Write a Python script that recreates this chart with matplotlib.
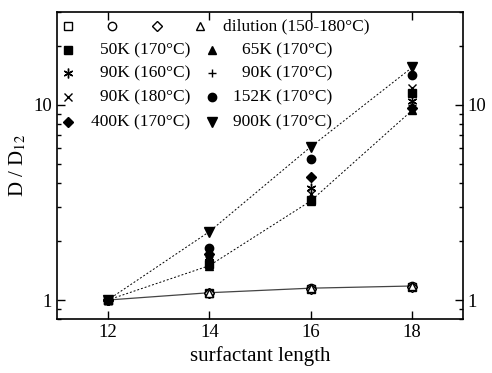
import numpy as np
import matplotlib
matplotlib.use("Agg")
import matplotlib.pyplot as plt
from matplotlib.ticker import LogLocator, NullFormatter, FixedLocator

plt.rcParams['font.family'] = ['Liberation Serif', 'DejaVu Serif']
plt.rcParams['mathtext.fontset'] = 'stix'

# surfactant chain length
L = np.array([12, 14, 16, 18])

# dilution series (150-180 C), all nearly on top of each other
dil_sq = [1.0, 1.08, 1.14, 1.17]
dil_ci = [1.0, 1.09, 1.15, 1.18]
dil_di = [1.0, 1.08, 1.14, 1.17]
dil_tr = [1.0, 1.09, 1.15, 1.18]

# molecular weight series
k50_170 = [1.0, 1.53, 3.26, 11.5]
k65_170 = [1.0, 1.50, 3.22, 9.4]
k90_160 = [1.0, 1.66, 3.75, 10.5]
k90_170 = [1.0, 1.56, 3.35, 10.0]
k90_180 = [1.0, 1.60, 3.50, 12.2]
k152_170 = [1.0, 1.85, 5.28, 14.3]
k400_170 = [1.0, 1.72, 4.27, 9.65]
k900_170 = [1.0, 2.24, 6.10, 15.6]

fig = plt.figure(figsize=(4.92, 3.73), dpi=100)
ax = fig.add_axes([0.116, 0.145, 0.825, 0.823])

# guide lines
dots = (0, (2, 2))
ax.plot(L, dil_ci, '-', color='#444444', lw=0.9, zorder=1)
ax.plot(L, k900_170, ls=dots, color='k', lw=0.7, zorder=1)
ax.plot(L, k65_170, ls=dots, color='k', lw=0.7, zorder=1)

ms = 6
aster = (6, 2, 0)
open_kw = dict(mfc='white', mec='k', mew=1.0, ls='none', ms=ms, zorder=3)
ax.plot(L, dil_sq, 's', **open_kw)
ax.plot(L, dil_ci, 'o', **open_kw)
ax.plot(L, dil_di, 'D', **dict(open_kw, ms=ms - 1))
ax.plot(L, dil_tr, '^', **open_kw)

fill_kw = dict(color='k', ls='none', ms=ms, zorder=3)
ax.plot(L, k50_170, 's', **fill_kw)
ax.plot(L, k65_170, '^', **fill_kw)
ax.plot(L, k90_160, marker=aster, **dict(fill_kw, ms=ms + 1, mew=1.0))
ax.plot(L, k90_170, '+', **dict(fill_kw, mew=1.0))
ax.plot(L, k90_180, 'x', **dict(fill_kw, mew=1.0))
ax.plot(L, k152_170, 'o', **fill_kw)
ax.plot(L, k400_170, 'D', **dict(fill_kw, ms=ms - 1))
ax.plot(L, k900_170, 'v', **dict(fill_kw, ms=ms + 1))

ax.set_yscale('log')
ax.set_xlim(11, 19)
ax.set_ylim(0.8, 30)
ax.xaxis.set_major_locator(FixedLocator([12, 14, 16, 18]))
ax.yaxis.set_major_locator(FixedLocator([1, 10]))
ax.yaxis.set_minor_locator(LogLocator(base=10, subs=np.arange(2, 10)))
ax.yaxis.set_minor_formatter(NullFormatter())
ax.set_yticklabels(['1', '10'])
ax.tick_params(which='both', direction='in', top=True, right=True,
               labelright=True, labelsize=13.5)
ax.tick_params(which='major', length=6, width=1)
ax.tick_params(which='minor', length=3, width=1)
for s in ax.spines.values():
    s.set_linewidth(1.2)

ax.set_xlabel('surfactant length', fontsize=15)
ax.set_ylabel(r'D / D$_{12}$', fontsize=15)

# legend drawn by hand: first row shares one label, then two columns
tr = ax.transAxes
def px(x, y):
    return ((x - 57) / 406, (319 - y) / 307)

fs = 12.5
row1 = [('s', 68), ('o', 112), ('D', 157), ('^', 200)]
for m, x in row1:
    xx, yy = px(x, 26)
    ax.plot([xx], [yy], m, transform=tr, mfc='white', mec='k', mew=1.0,
            ms=ms - 1 if m == 'D' else ms, clip_on=False)
xx, yy = px(223, 26)
ax.text(xx, yy, 'dilution (150-180°C)', transform=tr, fontsize=fs,
        va='center', ha='left')

left_col = [('s', '50K (170°C)', {}), (aster, '90K (160°C)', {'ms': ms + 1, 'mew': 1.0}),
            ('x', '90K (180°C)', {'mew': 1.0}), ('D', '400K (170°C)', {'ms': ms - 1})]
right_col = [('^', '65K (170°C)', {}), ('+', '90K (170°C)', {'mew': 1.0}),
             ('o', '152K (170°C)', {}), ('v', '900K (170°C)', {'ms': ms + 1})]
rows_y = [50, 73, 97, 122]
for y, (m, lab, kw) in zip(rows_y, left_col):
    xx, yy = px(68, y)
    ax.plot([xx], [yy], marker=m, ls='none', transform=tr, color='k',
            **dict({'ms': ms}, **kw))
    xx, yy = px(190, y)
    ax.text(xx, yy, lab, transform=tr, fontsize=fs, va='center', ha='right')
for y, (m, lab, kw) in zip(rows_y, right_col):
    xx, yy = px(212, y)
    ax.plot([xx], [yy], marker=m, ls='none', transform=tr, color='k',
            **dict({'ms': ms}, **kw))
    xx, yy = px(332, y)
    ax.text(xx, yy, lab, transform=tr, fontsize=fs, va='center', ha='right')

fig.savefig('out.png', dpi=100)
